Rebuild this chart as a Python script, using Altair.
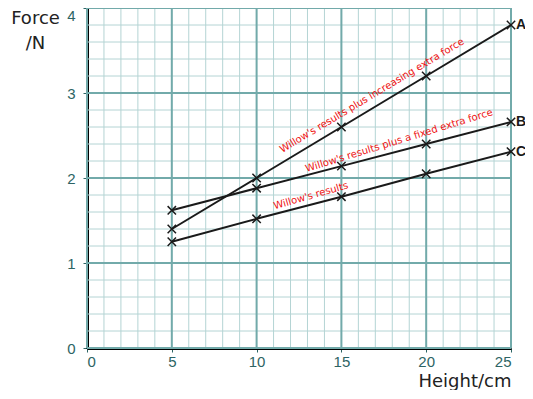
import altair as alt
import pandas as pd

heights = [5, 10, 15, 20, 25]
force_a = [1.40, 2.00, 2.60, 3.20, 3.80]
force_b = [1.62, 1.88, 2.14, 2.40, 2.66]
force_c = [1.25, 1.52, 1.78, 2.05, 2.31]
series = ["A", "B", "C"]

notes = [
    "Willow's results plus increasing extra force",
    "Willow's results plus a fixed extra force",
    "Willow's results",
]
note_x = [16.8, 18.4, 13.2]
note_y = [2.97, 2.44, 1.79]
note_angle = [329, 343, 344]

minor_x = list(range(0, 26))
minor_y = [round(i * 0.2, 1) for i in range(0, 21)]
major_x = [0, 5, 10, 15, 20, 25]
major_y = [0, 1, 2, 3, 4]

rows = []
for s, vals in zip(series, [force_a, force_b, force_c]):
    for h, f in zip(heights, vals):
        rows.append({"series": s, "height": h, "force": f})
df = pd.DataFrame(rows)

xs = alt.Scale(domain=[0, 25], nice=False)
ys = alt.Scale(domain=[0, 4], nice=False)

TEAL = "#2d6464"
MINOR = "#b4d4d4"
MAJOR = "#72aaaa"

x_axis = alt.Axis(
    values=major_x, grid=False, domainColor="black", domainWidth=3,
    tickColor=TEAL, tickSize=4, labelColor=TEAL, labelFontSize=15,
    labelFont="Liberation Sans", labelPadding=2, format="d",
    title="Height/cm", titleFont="DejaVu Sans", titleFontSize=18,
    titleFontWeight="normal", titleColor="#222222",
    titleAlign="right", titleX=424, titleY=38, titleBaseline="alphabetic",
)
y_axis = alt.Axis(
    values=major_y, grid=False, domainColor="black", domainWidth=3,
    tickColor=TEAL, tickSize=4, labelColor=TEAL, labelFontSize=15,
    labelFont="Liberation Sans", labelPadding=8, format="d",
    labelBaseline={"condition": {"test": "datum.value == 4", "value": "top"},
                   "value": "middle"},
    title=["Force", "/N"], titleFont="DejaVu Sans", titleFontSize=18,
    titleFontWeight="normal", titleColor="#222222", titleAngle=0,
    titleAlign="center", titleBaseline="top", titleX=-52, titleY=1,
    titleLineHeight=25,
)

minor_v = alt.Chart(pd.DataFrame({"x": minor_x})).mark_rule(
    color=MINOR, strokeWidth=1).encode(x=alt.X("x:Q", scale=xs, axis=x_axis))
minor_h = alt.Chart(pd.DataFrame({"y": minor_y})).mark_rule(
    color=MINOR, strokeWidth=1).encode(y=alt.Y("y:Q", scale=ys, axis=y_axis))
major_v = alt.Chart(pd.DataFrame({"x": major_x})).mark_rule(
    color=MAJOR, strokeWidth=2).encode(x=alt.X("x:Q", scale=xs))
major_h = alt.Chart(pd.DataFrame({"y": major_y})).mark_rule(
    color=MAJOR, strokeWidth=2).encode(y=alt.Y("y:Q", scale=ys))

base = alt.Chart(df).encode(
    x=alt.X("height:Q", scale=xs),
    y=alt.Y("force:Q", scale=ys),
    detail="series:N",
)
lines = base.mark_line(color="#1a1a1a", strokeWidth=2)
crosses = base.mark_point(
    shape="M-1,-1L1,1M-1,1L1,-1", size=70, color="#1a1a1a",
    strokeWidth=1.5, filled=False, opacity=1)

end_df = df[df["height"] == 25]
letters = alt.Chart(end_df).mark_text(
    align="left", baseline="middle", dx=5, fontSize=14, fontWeight="bold",
    font="Liberation Sans", color="#1a1a1a").encode(
    x=alt.X("height:Q", scale=xs), y=alt.Y("force:Q", scale=ys), text="series:N")

note_df = pd.DataFrame({"text": notes, "x": note_x, "y": note_y, "angle": note_angle})
note_layers = []
for i in range(len(notes)):
    note_layers.append(
        alt.Chart(note_df.iloc[[i]]).mark_text(
            color="#ee1111", fontSize=10, font="DejaVu Sans",
            angle=note_angle[i], align="center", baseline="middle").encode(
            x=alt.X("x:Q", scale=xs), y=alt.Y("y:Q", scale=ys), text="text:N")
    )

chart = alt.layer(
    minor_v, minor_h, major_v, major_h, lines, crosses, letters, *note_layers
).properties(
    width=424, height=340,
    autosize=alt.AutoSizeParams(type="none"),
    padding={"left": 79, "top": 0, "right": 14, "bottom": 42},
).configure_view(stroke=None)

chart.save("out.html", embed_options={"renderer": "svg", "actions": False})
